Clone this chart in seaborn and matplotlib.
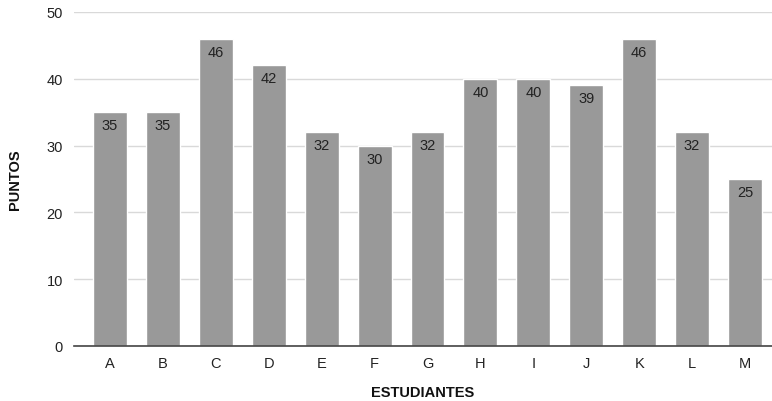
import matplotlib
matplotlib.use("Agg")
import matplotlib.pyplot as plt
import seaborn as sns
import pandas as pd

estudiantes = ["A", "B", "C", "D", "E", "F", "G", "H", "I", "J", "K", "L", "M"]
puntos = [35, 35, 46, 42, 32, 30, 32, 40, 40, 39, 46, 32, 25]
y_ticks = [0, 10, 20, 30, 40, 50]

df = pd.DataFrame({"ESTUDIANTES": estudiantes, "PUNTOS": puntos})

sns.set_theme(style="white")
plt.rcParams["font.family"] = ["Liberation Sans", "DejaVu Sans"]

fig = plt.figure(figsize=(7.72, 4.02), dpi=100)
ax_w, ax_h = 772 - 74, 347 - 13
ax = fig.add_axes([74 / 772, 1 - 347 / 402, ax_w / 772, ax_h / 402])

sns.barplot(data=df, x="ESTUDIANTES", y="PUNTOS", color="#999999",
            saturation=1, width=0.64, ax=ax, zorder=2)

ax.set_xlim(-0.68, 12.51)
ax.set_ylim(0, 50)
ax.set_yticks(y_ticks)
ax.yaxis.grid(True, color="#d9d9d9", linewidth=1, zorder=0)
ax.set_axisbelow(True)

for s in ["top", "right", "left"]:
    ax.spines[s].set_visible(False)
ax.spines["bottom"].set_color("#444444")
ax.spines["bottom"].set_linewidth(1.2)
ax.spines["bottom"].set_zorder(3)

ax.tick_params(axis="both", length=0, labelsize=10.5, colors="#222222")
ax.tick_params(axis="y", pad=8)
ax.tick_params(axis="x", pad=7)

for i, v in enumerate(puntos):
    ax.text(i, v - 0.9, str(v), ha="center", va="top", fontsize=10.5,
            color="#222222", zorder=4)

ax.set_xlabel("ESTUDIANTES", fontsize=10.5, fontweight="bold", color="#111111",
              va="center")
ax.xaxis.set_label_coords(0.5, -46 / ax_h)
ax.set_ylabel("PUNTOS", fontsize=10.5, fontweight="bold", color="#111111",
              va="center")
ax.yaxis.set_label_coords(-59 / ax_w, 0.5)

fig.savefig("out.png", dpi=100)
